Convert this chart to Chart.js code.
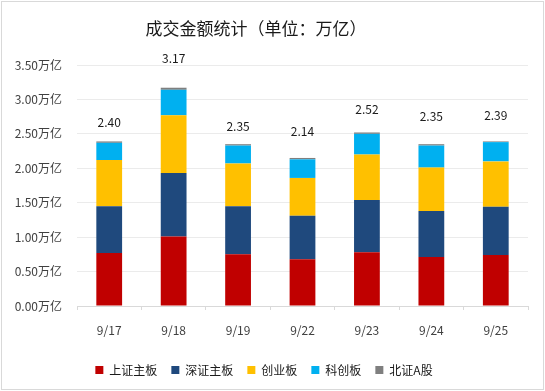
<!DOCTYPE html>
<html>
<head>
<meta charset="utf-8">
<script src="https://cdn.jsdelivr.net/npm/chart.js@4/dist/chart.umd.min.js"></script>
<style>
html,body{margin:0;padding:0;background:#fff;}
#wrap{width:545px;height:391px;position:relative;}
</style>
</head>
<body>
<div id="wrap"><canvas id="c" width="545" height="391"></canvas></div>
<script>
const categories = ['9/17', '9/18', '9/19', '9/22', '9/23', '9/24', '9/25'];
const shMain = [0.77, 1.01, 0.75, 0.68, 0.78, 0.71, 0.74];
const szMain = [0.68, 0.92, 0.70, 0.63, 0.76, 0.67, 0.70];
const chiNext = [0.67, 0.84, 0.62, 0.55, 0.66, 0.63, 0.66];
const starMkt = [0.25, 0.37, 0.26, 0.27, 0.30, 0.32, 0.28];
const bjA = [0.02, 0.03, 0.02, 0.02, 0.02, 0.02, 0.01];
const totals = ['2.40', '3.17', '2.35', '2.14', '2.52', '2.35', '2.39'];
const seriesNames = ['上证主板', '深证主板', '创业板', '科创板', '北证A股'];
const yTicks = [0, 0.5, 1.0, 1.5, 2.0, 2.5, 3.0, 3.5];
const titleText = '成交金额统计（单位：万亿）';

// label lift above each stack (style only)
const labelLift = [18.6, 29.6, 18, 26.3, 22.7, 27.7, 26];

const FONT = '"Noto Sans CJK SC", "Noto Sans", sans-serif';
const colors = ['#C00000', '#1F497D', '#FFC000', '#00B0F0', '#7F7F7F'];

const frame = {
  id: 'frame',
  beforeDraw(chart) {
    const ctx = chart.ctx;
    ctx.save();
    ctx.fillStyle = '#fff';
    ctx.fillRect(0, 0, chart.width, chart.height);
    ctx.strokeStyle = '#D9D9D9';
    ctx.lineWidth = 1;
    ctx.strokeRect(1.5, 1.5, 542, 388);
    ctx.fillStyle = '#1a1a1a';
    ctx.font = '17px ' + FONT;
    ctx.textAlign = 'center';
    ctx.textBaseline = 'middle';
    ctx.fillText(titleText, 256, 29);
    ctx.restore();
  }
};

const totalLabels = {
  id: 'totalLabels',
  afterDatasetsDraw(chart) {
    const ctx = chart.ctx;
    const n = chart.data.datasets.length;
    const meta = chart.getDatasetMeta(n - 1);
    ctx.save();
    ctx.fillStyle = '#1a1a1a';
    ctx.font = '12px ' + FONT;
    ctx.textAlign = 'center';
    ctx.textBaseline = 'middle';
    meta.data.forEach((bar, i) => {
      ctx.fillText(totals[i], bar.x, bar.y - labelLift[i]);
    });
    ctx.restore();
  }
};

const dataSeries = [shMain, szMain, chiNext, starMkt, bjA];

new Chart(document.getElementById('c'), {
  type: 'bar',
  data: {
    labels: categories,
    datasets: dataSeries.map((d, i) => ({
      label: seriesNames[i],
      data: d,
      backgroundColor: colors[i],
      borderWidth: 0,
      barPercentage: 0.4,
      categoryPercentage: 1.0
    }))
  },
  options: {
    responsive: false,
    animation: false,
    devicePixelRatio: 1,
    layout: { padding: { top: 65, left: 0, right: 17, bottom: 5 } },
    plugins: {
      title: { display: false },
      tooltip: { enabled: false },
      legend: {
        position: 'bottom',
        labels: {
          boxWidth: 8,
          boxHeight: 8,
          padding: 14,
          color: '#1a1a1a',
          font: { family: FONT, size: 12 }
        }
      }
    },
    scales: {
      x: {
        stacked: true,
        grid: {
          display: true,
          offset: true,
          drawOnChartArea: false,
          drawTicks: true,
          tickLength: 4,
          color: '#D9D9D9'
        },
        border: { display: true, color: '#D9D9D9' },
        ticks: { color: '#404040', padding: 13, font: { family: FONT, size: 12 } },
        afterFit(scale) { scale.height = 44; }
      },
      y: {
        stacked: true,
        min: 0,
        max: 3.5,
        afterBuildTicks(scale) { scale.ticks = yTicks.map(v => ({ value: v })); },
        grid: { color: '#EBEBEB', drawTicks: false },
        border: { display: false },
        ticks: {
          color: '#404040',
          padding: 15,
          font: { family: FONT, size: 12 },
          callback: v => Number(v).toFixed(2) + '万亿'
        },
        afterFit(scale) { scale.width = 77; }
      }
    }
  },
  plugins: [frame, totalLabels]
});
</script>
</body>
</html>
